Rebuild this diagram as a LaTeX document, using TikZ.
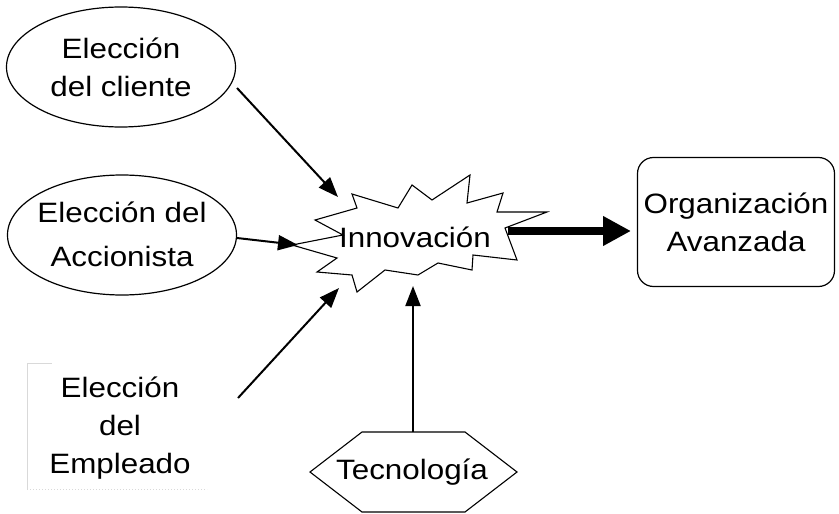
\documentclass[tikz,border=0pt]{standalone}
\usepackage{fontspec}
\setmainfont[FakeStretch=1.12]{Liberation Sans}
\usetikzlibrary{arrows.meta,shapes.geometric}
\begin{document}
\begin{tikzpicture}[x=1pt,y=-1pt,
  lbl/.style={font=\fontsize{28}{38}\selectfont, align=center, inner sep=0pt},
  ell/.style={draw, ellipse, line width=1.2pt, minimum width=229pt, minimum height=120pt, inner sep=0pt},
  orgbox/.style={draw, line width=1.2pt, rounded corners=16pt, minimum width=197pt, minimum height=129pt, inner sep=0pt},
  outline/.style={draw, line width=1.1pt, line join=miter},
  thinarr/.style={line width=2pt, -{Triangle[length=20pt,width=15pt]}},
  thickarr/.style={line width=8pt, -{Triangle[length=28pt,width=28pt]}},
  faint/.style={draw=black!15, line width=1pt}]
\useasboundingbox (0,0) rectangle (839,514);

% input ellipses
\node[ell] (clienteE) at (121,67) {};
\node[lbl] (cliente) at (121,67) {Elección\\del cliente};
\node[ell] (accionistaE) at (122,235) {};
\node[lbl, font=\fontsize{28}{44}\selectfont] (accionista) at (122,234) {Elección del\\Accionista};

% faint box around Empleado
\draw[faint] (27,489) -- (27,363) -- (52,363);
\draw[faint, dotted] (27,489) -- (207,489);
\node[lbl] (empleado) at (120,428) {Elección\\del\\Empleado};

% starburst
\draw[outline] (315,220) -- (357,208) -- (352,194) -- (398,208) -- (412,185)
  -- (432,200) -- (470,175) -- (467,203) -- (503,193) -- (497,212)
  -- (547,212) -- (505,228) -- (517,260) -- (473,255) -- (472,270)
  -- (438,263) -- (418,275) -- (385,270) -- (357,292) -- (352,275)
  -- (317,272) -- (337,258) -- (292,245) -- (343,235) -- cycle;
\node[lbl] (innov) at (415,237) {Innovación};

% output box
\node[orgbox, lbl, draw] (org) at (736,222) {Organización\\Avanzada};

% technology hexagon
\draw[outline] (310,472) -- (362,432) -- (465,432) -- (517,472) -- (465,512) -- (362,512) -- cycle;
\node[lbl] (tec) at (412,472) {Tecnología};

% connector end points
\coordinate (s1) at (237,88);
\coordinate (t1) at (338,197);
\coordinate (s2) at (237,238);
\coordinate (t2) at (298,245);
\coordinate (s3) at (238,398);
\coordinate (t3) at (339,288);
\coordinate (s4) at (413,432);
\coordinate (t4) at (413,286);
\coordinate (s5) at (508,231);
\coordinate (t5) at (631,231);

\draw[thinarr] (s1) -- (t1);
\draw[thinarr] (s2) -- (t2);
\draw[thinarr] (s3) -- (t3);
\draw[thinarr] (s4) -- (t4);
\draw[thickarr] (s5) -- (t5);
\end{tikzpicture}
\end{document}
